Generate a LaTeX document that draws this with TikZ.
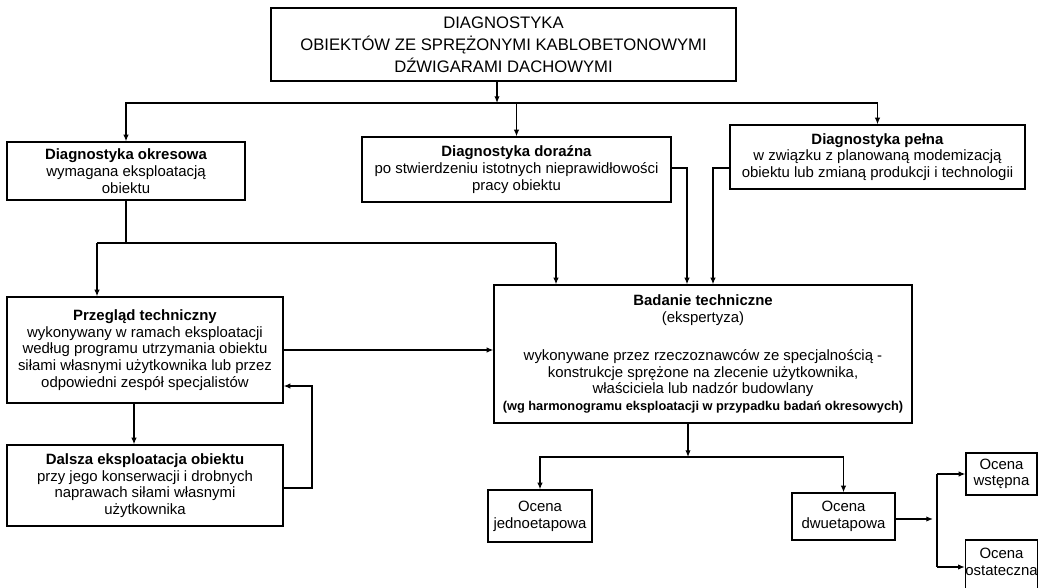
\documentclass[tikz,border=0pt]{standalone}
\usepackage{fontspec}
\setmainfont{Liberation Sans}
\usepackage{tikz}
\usetikzlibrary{arrows.meta}

\begin{document}
\begin{tikzpicture}[x=0.75pt,y=-0.75pt,line width=0.9pt,>={Latex[length=5pt,width=4pt]},
  box/.style={draw,align=center,inner sep=0pt,font=\fontsize{11.2}{12.5}\selectfont},
  wh/.style 2 args={minimum width=#1*0.75pt,minimum height=#2*0.75pt}]
\useasboundingbox (0,0) rectangle (1039,588);

\node [box,wh={465}{73},font=\fontsize{12.5}{16.5}\selectfont] (title) at (503.5,44.5)
  {DIAGNOSTYKA\\OBIEKTÓW ZE SPRĘŻONYMI KABLOBETONOWYMI\\DŹWIGARAMI DACHOWYMI};
\node [box,wh={238}{58}] (okresowa) at (126,171)
  {\textbf{Diagnostyka okresowa}\\wymagana eksploatacją\\obiektu};
\node [box,wh={309}{65}] (dorazna) at (516.5,169.5)
  {\textbf{Diagnostyka doraźna}\\po stwierdzeniu istotnych nieprawidłowości\\pracy obiektu};
\node [box,wh={295}{64}] (pelna) at (877.5,157)
  {\textbf{Diagnostyka pełna}\\w związku z planowaną modemizacją\\obiektu lub zmianą produkcji i technologii};
\node [box,wh={276}{106}] (przeglad) at (145,350)
  {\textbf{Przegląd techniczny}\\wykonywany w ramach eksploatacji\\według programu utrzymania obiektu\\siłami własnymi użytkownika lub przez\\odpowiedni zespół specjalistów};
\node [box,wh={276}{81}] (dalsza) at (145,485.5)
  {\textbf{Dalsza eksploatacja obiektu}\\przy jego konserwacji i drobnych\\naprawach siłami własnymi\\użytkownika};
\node [box,wh={418}{138}] (badanie) at (703,354)
  {\textbf{Badanie techniczne}\\(ekspertyza)\\[16pt]wykonywane przez rzeczoznawców ze specjalnością -\\konstrukcje sprężone na zlecenie użytkownika,\\właściciela lub nadzór budowlany\\{\bfseries\fontsize{9.6}{11}\selectfont(wg harmonogramu eksploatacji w przypadku badań okresowych)}};
\node [box,wh={104}{52}] (jedno) at (540,516) {Ocena\\jednoetapowa};
\node [box,wh={103}{47}] (dwu) at (843.5,516.5) {Ocena\\dwuetapowa};
\node [box,wh={71}{42}] (wstepna) at (1001.5,474) {Ocena\\wstępna};
\node [box,wh={71}{60},text depth=12pt] (ostateczna) at (1001.5,570) {Ocena\\ostateczna};

\coordinate (bus) at (497,103);
\coordinate (s1) at (97,243);
\coordinate (s2) at (556,243);
\coordinate (d1) at (687,168);
\coordinate (p1) at (713,168);
\coordinate (k1) at (134,0);
\coordinate (r1) at (312,488);
\coordinate (r2) at (312,386);
\coordinate (t1) at (688,457);
\coordinate (v0) at (933,519);
\coordinate (v1) at (937,519);
\coordinate (v2) at (937,567);

\draw [->] (title.south -| bus) -- (bus);
\draw [->] (bus) -| (okresowa);
\draw [->] (bus) -| (pelna);
\draw [->] (bus -| dorazna) -- (dorazna);
\draw (okresowa) -- (okresowa |- s1);
\draw (s1) -- (s2);
\draw [->] (s1) -- (s1 |- przeglad.north);
\draw [->] (s2) -- (s2 |- badanie.north);
\draw [->] (dorazna.east |- d1) -- (d1) -- (d1 |- badanie.north);
\draw [->] (pelna.west |- p1) -- (p1) -- (p1 |- badanie.north);
\draw [->] (przeglad.east) -- (przeglad.east -| badanie.west);
\draw [->] (przeglad.south -| k1) -- (dalsza.north -| k1);
\draw [->] (dalsza.east |- r1) -- (r1) -- (r2) -- (r2 -| przeglad.east);
\draw [->] (badanie.south -| t1) -- (t1);
\draw [->] (t1) -| (jedno);
\draw [->] (t1) -| (dwu);
\draw [->] (dwu.east |- v0) -- (v0);
\draw (v1 |- wstepna) -- (v2);
\draw [->] (v1 |- wstepna) -- (wstepna);
\draw [->] (v2) -- (v2 -| ostateczna.west);
\end{tikzpicture}
\end{document}
